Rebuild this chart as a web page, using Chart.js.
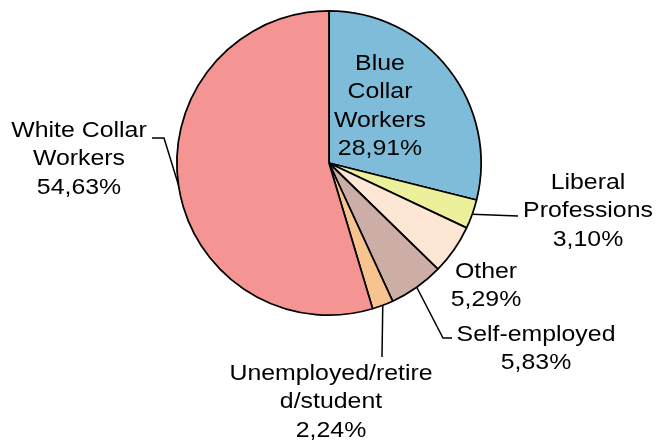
<!DOCTYPE html>
<html>
<head>
<meta charset="utf-8">
<title>Occupation breakdown</title>
<script src="https://cdn.jsdelivr.net/npm/chart.js@4.4.1/dist/chart.umd.min.js"></script>
<style>
  body { margin: 0; background: #fff; }
  canvas { display: block; }
</style>
</head>
<body>
<canvas id="occupationChart" width="658" height="441"></canvas>
<script>
// occupation groups, clockwise from 12 o'clock
const categories = ['Blue Collar Workers', 'Liberal Professions', 'Other', 'Self-employed', 'Unemployed/retired/student', 'White Collar Workers'];
const shares = [28.91, 3.10, 5.29, 5.83, 2.24, 54.63];
const labelLines = [
  ['Blue', 'Collar', 'Workers'],
  ['Liberal', 'Professions'],
  ['Other'],
  ['Self-employed'],
  ['Unemployed/retire', 'd/student'],
  ['White Collar', 'Workers']
];
const sliceColors = ['#7fbcd9', '#ecf09a', '#fde6d4', '#cdaea6', '#f7c48f', '#f49593'];

// where each label block sits (centre x, first baseline) and its leader line bends
const labelSpots = [
  { x: 380, y: 70, leader: null },
  { x: 588, y: 189, leader: [[518, 216]] },
  { x: 486, y: 278, leader: null },
  { x: 536, y: 341, leader: [[443, 338], [452, 338]] },
  { x: 331, y: 380, leader: [[382, 357]] },
  { x: 79, y: 137, leader: [[164, 138], [152, 138]] }
];

function formatShare(v) {
  return v.toFixed(2).replace('.', ',') + '%';
}

const pieLabels = {
  id: 'pieLabels',
  afterDatasetsDraw(chart) {
    const ctx = chart.ctx;
    const arcs = chart.getDatasetMeta(0).data;
    ctx.save();
    ctx.font = '22px "Liberation Sans", Arial, sans-serif';
    ctx.fillStyle = '#000';
    ctx.strokeStyle = '#000';
    ctx.lineWidth = 1.5;
    ctx.textAlign = 'center';
    arcs.forEach((arc, i) => {
      const spot = labelSpots[i];
      if (spot.leader) {
        const p = arc.getProps(['x', 'y', 'startAngle', 'endAngle', 'outerRadius'], true);
        const mid = (p.startAngle + p.endAngle) / 2;
        ctx.beginPath();
        ctx.moveTo(p.x + Math.cos(mid) * p.outerRadius, p.y + Math.sin(mid) * p.outerRadius);
        spot.leader.forEach(pt => ctx.lineTo(pt[0], pt[1]));
        ctx.stroke();
      }
      const lines = labelLines[i].concat([formatShare(shares[i])]);
      lines.forEach((txt, k) => {
        ctx.save();
        ctx.translate(spot.x, spot.y + k * 28.3);
        ctx.scale(1.13, 1);
        ctx.fillText(txt, 0, 0);
        ctx.restore();
      });
    });
    ctx.restore();
  }
};

const chart = new Chart(document.getElementById('occupationChart'), {
  type: 'pie',
  data: {
    labels: categories,
    datasets: [{
      data: shares,
      backgroundColor: sliceColors,
      borderColor: '#000',
      borderWidth: 1.75
    }]
  },
  options: {
    responsive: false,
    animation: false,
    layout: { padding: { top: 10, bottom: 125 } },
    plugins: {
      legend: { display: false },
      tooltip: { enabled: false }
    }
  },
  plugins: [pieLabels]
});
</script>
</body>
</html>
